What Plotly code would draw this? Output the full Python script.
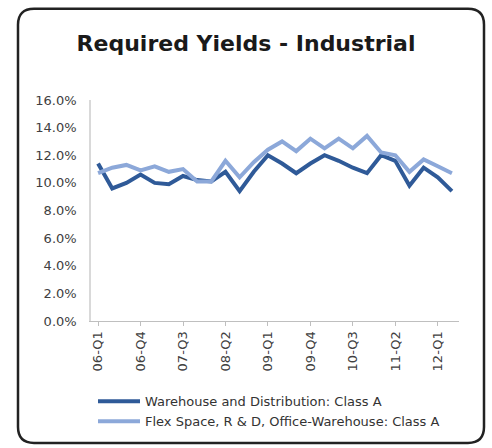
import plotly.graph_objects as go

quarters = ["06-Q1", "06-Q2", "06-Q3", "06-Q4", "07-Q1", "07-Q2", "07-Q3", "07-Q4",
            "08-Q1", "08-Q2", "08-Q3", "08-Q4", "09-Q1", "09-Q2", "09-Q3", "09-Q4",
            "10-Q1", "10-Q2", "10-Q3", "10-Q4", "11-Q1", "11-Q2", "11-Q3", "11-Q4",
            "12-Q1", "12-Q2"]
warehouse = [11.4, 9.6, 10.0, 10.6, 10.0, 9.9, 10.5, 10.2, 10.1, 10.8, 9.4, 10.8,
             12.0, 11.4, 10.7, 11.4, 12.0, 11.6, 11.1, 10.7, 12.0, 11.6, 9.8, 11.1,
             10.4, 9.4]
flex = [10.7, 11.1, 11.3, 10.9, 11.2, 10.8, 11.0, 10.1, 10.1, 11.6, 10.4, 11.5,
        12.4, 13.0, 12.3, 13.2, 12.5, 13.2, 12.5, 13.4, 12.2, 12.0, 10.8, 11.7,
        11.2, 10.7]
tick_labels = ["06-Q1", "06-Q4", "07-Q3", "08-Q2", "09-Q1", "09-Q4", "10-Q3", "11-Q2", "12-Q1"]
series_names = ["Warehouse and Distribution: Class A",
                "Flex Space, R & D, Office-Warehouse: Class A"]

W, H = 492, 448
L, R, T, B = 91, 459, 100, 323  # plot area in pixels


def px(x):
    return (x - L) / (R - L)


def py(y):
    return (B - y) / (B - T)


fig = go.Figure()
fig.add_trace(go.Scatter(x=quarters, y=warehouse, mode="lines", name=series_names[0],
                         line=dict(color="#2F5A98", width=4)))
fig.add_trace(go.Scatter(x=quarters, y=flex, mode="lines", name=series_names[1],
                         line=dict(color="#8CA8D9", width=4)))

# rounded chart border
x0, x1, y0, y1, r = 18, 484, 8, 446, 16
path = (f"M {px(x0+r)},{py(y0)} L {px(x1-r)},{py(y0)} Q {px(x1)},{py(y0)} {px(x1)},{py(y0+r)} "
        f"L {px(x1)},{py(y1-r)} Q {px(x1)},{py(y1)} {px(x1-r)},{py(y1)} "
        f"L {px(x0+r)},{py(y1)} Q {px(x0)},{py(y1)} {px(x0)},{py(y1-r)} "
        f"L {px(x0)},{py(y0+r)} Q {px(x0)},{py(y0)} {px(x0+r)},{py(y0)} Z")
fig.add_shape(type="path", path=path, xref="paper", yref="paper",
              line=dict(color="#222222", width=2.5), layer="below")

fig.update_layout(
    width=W, height=H,
    margin=dict(l=L, r=W - R, t=T, b=H - B),
    paper_bgcolor="white", plot_bgcolor="white",
    font=dict(family="DejaVu Sans, sans-serif", color="#404040", size=13),
    title=dict(text="<b>Required Yields - Industrial</b>", x=0.5, xanchor="center",
               y=1 - 43 / H, yanchor="middle",
               font=dict(family="DejaVu Sans, sans-serif", size=22, color="#1a1a1a")),
    showlegend=True,
    legend=dict(x=px(93), y=py(389), xanchor="left", yanchor="top",
                font=dict(size=13, color="#333333"), itemwidth=42,
                tracegroupgap=0, bgcolor="rgba(0,0,0,0)"),
)
fig.update_xaxes(type="category", range=[-0.5, len(quarters) - 0.5],
                 tickmode="array", tickvals=tick_labels, ticktext=tick_labels,
                 tickangle=-90, showgrid=False, showline=True, linecolor="#BFBFBF",
                 linewidth=1, ticks="outside", ticklen=4, tickcolor="#BFBFBF",
                 tickfont=dict(size=13), zeroline=False)
fig.update_yaxes(range=[0, 16], dtick=2, tick0=0, tickformat=".1f", ticksuffix="%",
                 showgrid=False, showline=True, linecolor="#D9D9D9", linewidth=1.5,
                 ticks="", tickfont=dict(size=13), ticklabelstandoff=10,
                 zeroline=False)

fig.write_html("out.html")
